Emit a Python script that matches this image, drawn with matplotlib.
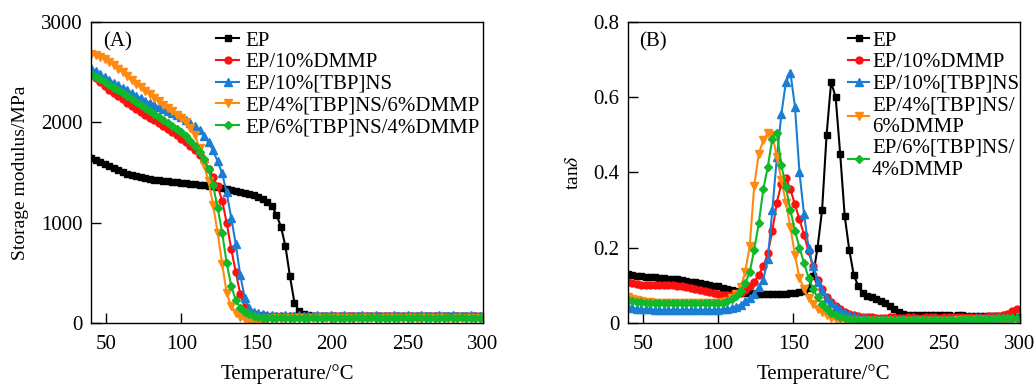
import numpy as np
import matplotlib
matplotlib.use("Agg")
import matplotlib.pyplot as plt

plt.rcParams['font.family'] = ['Liberation Serif', 'DejaVu Serif']
plt.rcParams['mathtext.fontset'] = 'stix'
plt.rcParams['font.size'] = 15

# temperature grid (degC), one reading every 3 degC
temp = np.arange(40, 299, 3)

labels_a = ['EP', 'EP/10%DMMP', 'EP/10%[TBP]NS', 'EP/4%[TBP]NS/6%DMMP', 'EP/6%[TBP]NS/4%DMMP']
labels_b = ['EP', 'EP/10%DMMP', 'EP/10%[TBP]NS', 'EP/4%[TBP]NS/\n6%DMMP', 'EP/6%[TBP]NS/\n4%DMMP']

# storage modulus, MPa
E_ep = [1640, 1620, 1600, 1580, 1560, 1540, 1520, 1500, 1485, 1470,
        1460, 1450, 1440, 1430, 1425, 1420, 1415, 1410, 1405, 1400,
        1395, 1390, 1385, 1380, 1375, 1370, 1365, 1360, 1350, 1345,
        1335, 1325, 1315, 1305, 1295, 1285, 1270, 1255, 1235, 1210,
        1165, 1080, 960, 765, 465, 200, 115, 85, 75, 72,
        70, 69, 70, 71, 70, 69, 70, 70, 71, 70,
        69, 70, 71, 70, 70, 69, 70, 71, 70, 70,
        69, 70, 71, 70, 70, 69, 70, 71, 70, 70,
        69, 70, 71, 70, 70, 69, 70]
E_dmmp = [2480, 2440, 2400, 2360, 2320, 2290, 2260, 2230, 2195, 2160,
          2130, 2100, 2070, 2045, 2020, 1990, 1960, 1930, 1900, 1870,
          1835, 1800, 1760, 1720, 1670, 1610, 1530, 1450, 1360, 1220,
          1000, 740, 510, 290, 160, 110, 90, 80, 75, 72,
          70, 72, 68, 71, 73, 69, 70, 72, 74, 70,
          68, 71, 73, 70, 69, 72, 74, 70, 68, 71,
          73, 70, 69, 72, 74, 70, 68, 71, 73, 70,
          69, 72, 74, 70, 68, 71, 73, 70, 69, 72,
          74, 70, 68, 71, 73, 70, 72]
E_tbp = [2540, 2510, 2480, 2450, 2420, 2395, 2370, 2345, 2320, 2290,
         2265, 2240, 2215, 2195, 2175, 2150, 2130, 2110, 2090, 2070,
         2050, 2020, 1990, 1960, 1920, 1865, 1800, 1720, 1610, 1490,
         1300, 1050, 790, 480, 250, 150, 110, 95, 85, 80,
         76, 74, 72, 75, 71, 73, 76, 72, 70, 74,
         76, 72, 71, 75, 73, 72, 76, 70, 74, 72,
         75, 71, 73, 76, 72, 70, 74, 76, 72, 71,
         75, 73, 72, 76, 70, 74, 72, 75, 71, 73,
         76, 72, 70, 74, 76, 72, 73]
E_4t6d = [2680, 2670, 2650, 2630, 2600, 2570, 2530, 2500, 2460, 2420,
          2385, 2350, 2310, 2280, 2245, 2210, 2175, 2140, 2110, 2075,
          2045, 2000, 1945, 1870, 1740, 1570, 1410, 1180, 900, 590,
          300, 170, 100, 60, 35, 20, 10, 8, 20, 35,
          42, 45, 44, 46, 43, 45, 47, 44, 42, 46,
          45, 43, 47, 44, 45, 46, 42, 45, 44, 47,
          43, 46, 45, 44, 42, 46, 45, 43, 47, 44,
          45, 46, 42, 45, 44, 47, 43, 46, 45, 44,
          42, 46, 45, 43, 47, 44, 45]
E_6t4d = [2480, 2455, 2430, 2400, 2370, 2345, 2320, 2290, 2260, 2230,
          2200, 2170, 2140, 2115, 2085, 2055, 2025, 1995, 1965, 1935,
          1900, 1860, 1815, 1765, 1705, 1630, 1530, 1370, 1150, 900,
          600, 370, 230, 150, 110, 85, 65, 55, 52, 50,
          48, 52, 55, 49, 51, 54, 47, 50, 53, 56,
          48, 51, 55, 49, 52, 54, 47, 50, 53, 55,
          48, 52, 55, 49, 51, 54, 47, 50, 53, 56,
          48, 51, 55, 49, 52, 54, 47, 50, 53, 55,
          48, 52, 55, 49, 51, 54, 50]

# loss factor tan(delta)
tan_ep = [0.129, 0.127, 0.125, 0.124, 0.123, 0.122, 0.121, 0.120, 0.119, 0.118,
          0.117, 0.116, 0.114, 0.112, 0.110, 0.108, 0.106, 0.104, 0.102, 0.099,
          0.097, 0.094, 0.091, 0.088, 0.084, 0.081, 0.080, 0.079, 0.079, 0.078,
          0.078, 0.077, 0.076, 0.076, 0.077, 0.078, 0.079, 0.080, 0.082, 0.086,
          0.092, 0.125, 0.200, 0.300, 0.500, 0.640, 0.600, 0.450, 0.285, 0.195,
          0.128, 0.098, 0.080, 0.072, 0.068, 0.064, 0.059, 0.053, 0.046, 0.038,
          0.030, 0.024, 0.022, 0.021, 0.021, 0.020, 0.020, 0.020, 0.021, 0.020,
          0.020, 0.020, 0.019, 0.020, 0.020, 0.019, 0.019, 0.019, 0.018, 0.018,
          0.018, 0.018, 0.018, 0.017, 0.017, 0.017, 0.017]
tan_dmmp = [0.108, 0.105, 0.103, 0.102, 0.101, 0.101, 0.100, 0.100, 0.100, 0.100,
            0.100, 0.099, 0.098, 0.096, 0.094, 0.091, 0.088, 0.085, 0.082, 0.079,
            0.077, 0.075, 0.074, 0.074, 0.076, 0.080, 0.088, 0.097, 0.110, 0.128,
            0.150, 0.185, 0.245, 0.320, 0.370, 0.385, 0.355, 0.315, 0.275, 0.235,
            0.190, 0.150, 0.115, 0.090, 0.070, 0.055, 0.044, 0.036, 0.030, 0.025,
            0.021, 0.018, 0.016, 0.015, 0.015, 0.014, 0.014, 0.014, 0.015, 0.015,
            0.014, 0.014, 0.015, 0.015, 0.014, 0.014, 0.015, 0.015, 0.015, 0.014,
            0.015, 0.015, 0.015, 0.015, 0.016, 0.016, 0.016, 0.016, 0.017, 0.017,
            0.018, 0.018, 0.019, 0.021, 0.024, 0.032, 0.038]
tan_tbp = [0.042, 0.040, 0.038, 0.037, 0.036, 0.036, 0.035, 0.035, 0.035, 0.035,
           0.035, 0.035, 0.035, 0.035, 0.035, 0.035, 0.035, 0.035, 0.035, 0.035,
           0.035, 0.036, 0.037, 0.039, 0.043, 0.049, 0.057, 0.066, 0.078, 0.095,
           0.115, 0.170, 0.300, 0.440, 0.555, 0.640, 0.665, 0.575, 0.400, 0.290,
           0.200, 0.150, 0.110, 0.085, 0.067, 0.053, 0.042, 0.034, 0.027, 0.022,
           0.018, 0.015, 0.013, 0.012, 0.011, 0.011, 0.011, 0.011, 0.010, 0.010,
           0.010, 0.010, 0.010, 0.010, 0.010, 0.010, 0.010, 0.010, 0.010, 0.010,
           0.010, 0.010, 0.011, 0.011, 0.011, 0.011, 0.011, 0.012, 0.012, 0.012,
           0.012, 0.013, 0.013, 0.014, 0.014, 0.015, 0.015]
tan_4t6d = [0.068, 0.063, 0.060, 0.058, 0.056, 0.055, 0.054, 0.054, 0.053, 0.053,
            0.053, 0.053, 0.053, 0.053, 0.053, 0.053, 0.053, 0.053, 0.053, 0.053,
            0.053, 0.055, 0.058, 0.065, 0.078, 0.095, 0.135, 0.205, 0.365, 0.450,
            0.485, 0.505, 0.500, 0.440, 0.380, 0.320, 0.255, 0.180, 0.120, 0.090,
            0.066, 0.050, 0.038, 0.028, 0.020, 0.014, 0.010, 0.008, 0.007, 0.006,
            0.006, 0.006, 0.006, 0.006, 0.006, 0.006, 0.006, 0.006, 0.006, 0.006,
            0.006, 0.006, 0.006, 0.006, 0.006, 0.006, 0.006, 0.006, 0.006, 0.006,
            0.006, 0.006, 0.006, 0.007, 0.007, 0.007, 0.007, 0.007, 0.007, 0.007,
            0.007, 0.007, 0.008, 0.008, 0.008, 0.008, 0.008]
tan_6t4d = [0.060, 0.058, 0.056, 0.055, 0.054, 0.053, 0.053, 0.052, 0.052, 0.052,
            0.052, 0.052, 0.052, 0.052, 0.052, 0.052, 0.052, 0.052, 0.052, 0.052,
            0.052, 0.054, 0.057, 0.063, 0.072, 0.085, 0.105, 0.135, 0.195, 0.265,
            0.355, 0.415, 0.490, 0.505, 0.420, 0.360, 0.300, 0.245, 0.200, 0.160,
            0.120, 0.090, 0.068, 0.050, 0.037, 0.027, 0.020, 0.015, 0.012, 0.010,
            0.009, 0.009, 0.009, 0.008, 0.008, 0.008, 0.008, 0.008, 0.008, 0.008,
            0.008, 0.008, 0.008, 0.008, 0.008, 0.008, 0.008, 0.008, 0.009, 0.009,
            0.009, 0.009, 0.009, 0.009, 0.010, 0.010, 0.010, 0.010, 0.010, 0.011,
            0.011, 0.011, 0.012, 0.012, 0.013, 0.013, 0.014]

colors = ['black', '#ff1010', '#1a7fd4', '#ff8a12', '#10b82a']
markers = ['s', 'o', '^', 'v', 'D']
msizes = [5, 5, 5.5, 5.5, 4.5]

fig = plt.figure(figsize=(10.34, 3.84), dpi=100)
axA = fig.add_axes([0.088, 0.159, 0.379, 0.784])
axB = fig.add_axes([0.607, 0.159, 0.379, 0.784])

for ys, lab, c, m, ms in zip([E_ep, E_dmmp, E_tbp, E_4t6d, E_6t4d], labels_a, colors, markers, msizes):
    axA.plot(temp, ys, color=c, marker=m, markersize=ms, lw=1.5, label=lab)
for ys, lab, c, m, ms in zip([tan_ep, tan_dmmp, tan_tbp, tan_4t6d, tan_6t4d], labels_b, colors, markers, msizes):
    axB.plot(temp, ys, color=c, marker=m, markersize=ms, lw=1.5, label=lab)

axA.set_ylim(0, 3000)
axA.set_yticks([0, 1000, 2000, 3000])
axA.set_ylabel('Storage modulus/MPa', fontsize=14, labelpad=9)
axB.set_ylim(0, 0.8)
axB.set_yticks([0, 0.2, 0.4, 0.6, 0.8])
axB.set_yticklabels(['0', '0.2', '0.4', '0.6', '0.8'])
axB.set_ylabel(r'tan$\delta$', fontsize=14, labelpad=8)

for ax, tag in [(axA, '(A)'), (axB, '(B)')]:
    ax.set_xlim(40, 300)
    ax.set_xticks([50, 100, 150, 200, 250, 300])
    ax.set_xlabel('Temperature/°C', labelpad=7)
    ax.tick_params(direction='in', length=7, width=1, top=False, right=False)
    ax.tick_params(axis='x', pad=9)
    ax.tick_params(axis='y', pad=6)
    for s in ax.spines.values():
        s.set_linewidth(1.0)
    ax.text(0.03, 0.933, tag, transform=ax.transAxes, va='center', ha='left')

axA.legend(loc='upper left', bbox_to_anchor=(0.277, 1.025), frameon=False,
           handlelength=1.1, handletextpad=0.3, labelspacing=0.1, borderpad=0.3)
axB.legend(loc='upper left', bbox_to_anchor=(0.52, 1.025), frameon=False,
           handlelength=1.0, handletextpad=0.15, labelspacing=0.1, borderpad=0.3)

fig.savefig('out.png', dpi=100)
